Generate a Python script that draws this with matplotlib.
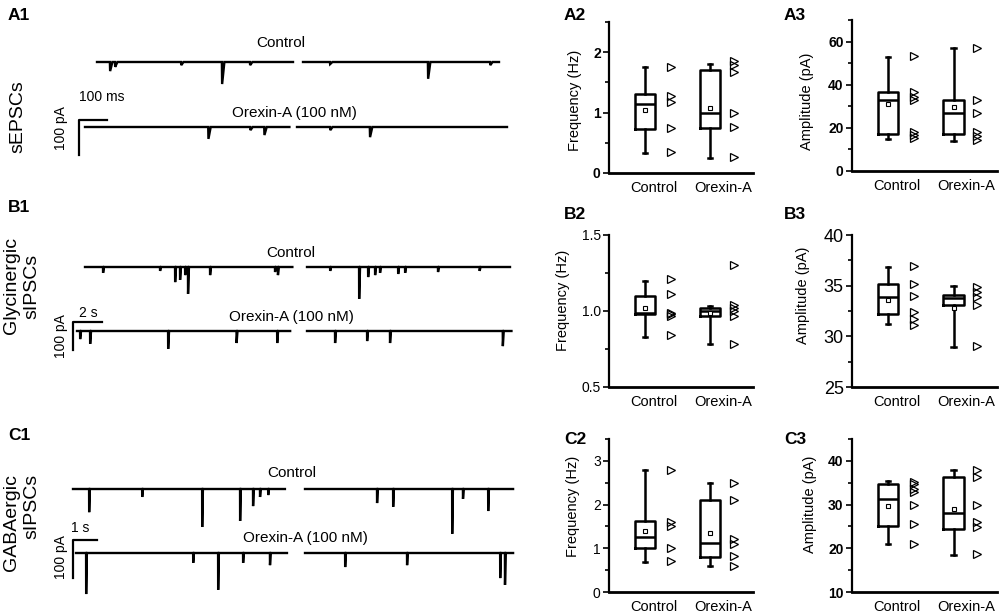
import matplotlib
matplotlib.use("Agg")
import matplotlib.pyplot as plt
import numpy as np

plt.rcParams['font.family'] = ['Liberation Sans', 'DejaVu Sans']

W, H = 1000, 614

# ---------------- box plot data (whislo, q1, med, q3, whishi, mean) ----------------
groups = ['Control', 'Orexin-A']

a2_ctrl_box = [0.33, 0.73, 1.15, 1.30, 1.75, 1.05]
a2_orx_box = [0.25, 0.75, 1.00, 1.70, 1.80, 1.07]
a2_ctrl_pts = [1.75, 1.28, 1.17, 0.75, 0.35]
a2_orx_pts = [1.85, 1.79, 1.68, 1.00, 0.76, 0.27]

a3_ctrl_box = [15.0, 17.0, 33.0, 36.5, 53.0, 31.0]
a3_orx_box = [14.0, 17.0, 27.0, 33.0, 57.0, 29.5]
a3_ctrl_pts = [53.5, 36.5, 34.5, 33.0, 18.0, 16.5, 15.5]
a3_orx_pts = [57.0, 33.0, 27.0, 18.0, 16.0, 14.5]

b2_ctrl_box = [0.83, 0.98, 0.99, 1.10, 1.20, 1.02]
b2_orx_box = [0.78, 0.97, 1.00, 1.02, 1.03, 0.99]
b2_ctrl_pts = [1.21, 1.11, 0.99, 0.98, 0.97, 0.84]
b2_orx_pts = [1.30, 1.04, 1.02, 1.00, 0.97, 0.78]

b3_ctrl_box = [31.2, 32.2, 33.9, 35.2, 36.8, 33.6]
b3_orx_box = [28.9, 33.1, 33.8, 34.1, 35.0, 32.8]
b3_ctrl_pts = [36.9, 35.2, 34.0, 32.4, 31.7, 31.1]
b3_orx_pts = [34.9, 34.4, 33.9, 33.1, 29.0]

c2_ctrl_box = [0.68, 1.00, 1.25, 1.62, 2.80, 1.40]
c2_orx_box = [0.60, 0.80, 1.12, 2.10, 2.50, 1.35]
c2_ctrl_pts = [2.80, 1.60, 1.50, 1.00, 0.72]
c2_orx_pts = [2.50, 2.10, 1.22, 1.10, 0.82, 0.60]

c3_ctrl_box = [21.0, 25.2, 31.3, 34.8, 35.3, 29.6]
c3_orx_box = [18.4, 24.5, 28.0, 36.2, 38.0, 29.0]
c3_ctrl_pts = [35.2, 34.6, 33.6, 32.8, 30.0, 25.5, 21.0]
c3_orx_pts = [37.8, 36.4, 30.0, 26.0, 24.8, 18.6]

# ---------------- trace events (time from segment start in s, amplitude in pA) ----------------
a1_ctrl_t = [[0.046, 0.064, 0.30, 0.446, 0.546], [0.096, 0.446, 0.668]]
a1_ctrl_a = [[26, 14, 9, 63, 9], [6, 48, 9]]
a1_orx_t = [[0.44, 0.59, 0.64], [0.118, 0.26]]
a1_orx_a = [[34, 9, 23], [9, 29]]

b1_ctrl_t = [[1.24, 5.17, 6.21, 6.55, 6.90, 7.10, 8.62, 13.1, 13.3],
             [1.59, 3.59, 4.21, 4.69, 5.03, 6.28, 6.76, 9.03, 11.9]]
b1_ctrl_a = [[21, 14, 54, 46, 29, 96, 29, 18, 29],
             [14, 114, 36, 29, 21, 25, 21, 18, 14]]
b1_orx_t = [[0.21, 0.90, 6.28, 11.0, 13.8], [1.93, 4.14, 5.72, 13.5]]
b1_orx_a = [[29, 46, 64, 43, 43], [43, 36, 43, 54]]

c1_ctrl_t = [[0.67, 2.88, 5.38, 6.96, 7.50, 7.79, 8.13], [3.0, 3.67, 6.13, 6.58, 7.63]]
c1_ctrl_a = [[61, 21, 100, 84, 45, 21, 16], [37, 47, 118, 26, 58]]
c1_orx_t = [[0.42, 4.88, 5.92, 6.96, 8.08], [1.67, 4.25, 8.13, 8.33]]
c1_orx_a = [[108, 26, 97, 26, 32], [37, 32, 66, 84]]


def fx(px):
    return px / W


def fy(py):
    return 1 - py / H


fig = plt.figure(figsize=(10, 6.14), dpi=100)


def trace_panel(box, px_s, px_pa, traces, bar, bar_t, decay_px):
    x0, y0, x1, y1 = box
    ax = fig.add_axes([fx(x0), fy(y1), fx(x1 - x0), (y1 - y0) / H])
    ax.set_xlim(0, (x1 - x0) / px_s)
    ax.set_ylim(-(y1 - y0) / px_pa, 0)
    ax.axis('off')
    dec = decay_px / px_s
    for base_py, segs, ev_t, ev_a in traces:
        yb = -(base_py - y0) / px_pa
        for (sx, dur), tt, aa in zip(segs, ev_t, ev_a):
            t0 = (sx - x0) / px_s
            xs, ys = [t0], [yb]
            for t, a in sorted(zip(tt, aa)):
                xs += [t0 + t, t0 + t + dec * 0.1, t0 + t + dec]
                ys += [yb, yb - a, yb]
            xs.append(t0 + dur)
            ys.append(yb)
            ax.plot(xs, ys, color='k', lw=1.7, solid_joinstyle='miter')
    # scale bar
    bx = (bar[0] - x0) / px_s
    by = -(bar[1] - y0) / px_pa
    ax.plot([bx + bar_t, bx, bx], [by, by, by - 100], color='k', lw=1.6)
    return ax


trace_panel((60, 30, 530, 170), 280, 0.35,
            [(62, [(97, 0.70), (303, 0.70)], a1_ctrl_t, a1_ctrl_a),
             (127, [(85, 0.73), (297, 0.75)], a1_orx_t, a1_orx_a)],
            (79, 120), 0.1, 2.5)
trace_panel((60, 230, 530, 370), 14.5, 0.28,
            [(267, [(85, 14.3), (307, 14.0)], b1_ctrl_t, b1_ctrl_a),
             (331, [(77, 14.7), (307, 14.1)], b1_orx_t, b1_orx_a)],
            (73, 322), 2.0, 1.0)
trace_panel((60, 450, 530, 614), 24, 0.38,
            [(489, [(73, 8.83), (305, 8.67)], c1_ctrl_t, c1_ctrl_a),
             (553, [(76, 8.79), (305, 8.67)], c1_orx_t, c1_orx_a)],
            (73, 540), 1.0, 0.8)

# trace texts
txt = dict(ha='center', va='center', fontsize=11)
fig.text(fx(281), fy(43), 'Control', **txt)
fig.text(fx(294), fy(113), 'Orexin-A (100 nM)', **txt)
fig.text(fx(291), fy(253), 'Control', **txt)
fig.text(fx(291), fy(317), 'Orexin-A (100 nM)', **txt)
fig.text(fx(292), fy(473), 'Control', **txt)
fig.text(fx(305), fy(538), 'Orexin-A (100 nM)', **txt)

fig.text(fx(79), fy(97), '100 ms', ha='left', va='center', fontsize=10)
fig.text(fx(88), fy(313), '2 s', ha='center', va='center', fontsize=10)
fig.text(fx(80), fy(528), '1 s', ha='center', va='center', fontsize=10)
for yy in (128, 336, 557):
    fig.text(fx(61), fy(yy), '100 pA', rotation=90, ha='center', va='center', fontsize=10)

side = dict(rotation=90, ha='center', va='center', fontsize=14)
fig.text(fx(18), fy(117), 'sEPSCs', **side)
fig.text(fx(12), fy(285), 'Glycinergic', **side)
fig.text(fx(32), fy(286), 'sIPSCs', **side)
fig.text(fx(12), fy(523), 'GABAergic', **side)
fig.text(fx(32), fy(506), 'sIPSCs', **side)

lab = dict(ha='left', va='center', fontsize=12.5, fontweight='bold')
for s, (px_, py_) in {'A1': (8, 16), 'B1': (8, 208), 'C1': (8, 435),
                      'A2': (564, 16), 'A3': (784, 16),
                      'B2': (564, 215), 'B3': (784, 215),
                      'C2': (564, 440), 'C3': (784, 440)}.items():
    fig.text(fx(px_), fy(py_), s, **lab)


# ---------------- box plot panels ----------------
def box_panel(box, ylim, major, minor, ctrl_box, orx_box, ctrl_pts, orx_pts,
              ylabel, lab_xy, tick_fs, tick_fw, fmt):
    x0, y0, x1, y1 = box
    ax = fig.add_axes([fx(x0), fy(y1), fx(x1 - x0), (y1 - y0) / H])
    stats = []
    for b in (ctrl_box, orx_box):
        stats.append(dict(whislo=b[0], q1=b[1], med=b[2], q3=b[3], whishi=b[4], mean=b[5]))
    ax.bxp(stats, positions=[0.25, 0.70], widths=0.14, showmeans=True,
           showfliers=False, capwidths=0.03,
           boxprops=dict(lw=1.8, color='k'),
           whiskerprops=dict(lw=1.8, color='k'),
           capprops=dict(lw=1.8, color='k'),
           medianprops=dict(lw=1.8, color='k'),
           meanprops=dict(marker='s', mfc='white', mec='k', ms=3.5, mew=0.8))
    ax.plot([0.43] * len(ctrl_pts), ctrl_pts, ls='none', marker='>', mfc='none',
            mec='k', ms=5.5, mew=0.9)
    ax.plot([0.865] * len(orx_pts), orx_pts, ls='none', marker='>', mfc='none',
            mec='k', ms=5.5, mew=0.9)
    ax.set_xlim(0, 1)
    ax.set_ylim(*ylim)
    ax.set_yticks(major)
    ax.set_yticklabels([fmt.format(v) for v in major], fontsize=tick_fs, fontweight=tick_fw)
    ax.set_yticks(minor, minor=True)
    ax.set_xticks([0.31, 0.79])
    ax.set_xticklabels(groups, fontsize=10.5)
    ax.tick_params(axis='x', length=0, pad=6)
    ax.tick_params(axis='y', which='major', length=4, width=1.2, pad=2)
    ax.tick_params(axis='y', which='minor', length=3, width=1.2)
    for s in ('top', 'right'):
        ax.spines[s].set_visible(False)
    ax.spines['left'].set_linewidth(1.6)
    ax.spines['bottom'].set_linewidth(2.0)
    ax.set_ylabel(ylabel, fontsize=10.5)
    ax.yaxis.set_label_coords(*lab_xy)
    ax.patch.set_visible(False)
    return ax


box_panel((609, 22, 753, 173), (0, 2.5), [0, 1, 2], [0.5, 1.5, 2.5],
          a2_ctrl_box, a2_orx_box, a2_ctrl_pts, a2_orx_pts,
          'Frequency (Hz)', (-0.19, 0.48), 10, 'bold', '{:g}')
box_panel((852, 20, 997, 171), (0, 70), [0, 20, 40, 60], [10, 30, 50, 70],
          a3_ctrl_box, a3_orx_box, a3_ctrl_pts, a3_orx_pts,
          'Amplitude (pA)', (-0.26, 0.46), 10, 'bold', '{:g}')
box_panel((609, 235, 753, 387), (0.5, 1.5), [0.5, 1.0, 1.5], [0.75, 1.25],
          b2_ctrl_box, b2_orx_box, b2_ctrl_pts, b2_orx_pts,
          'Frequency (Hz)', (-0.27, 0.57), 10, 'normal', '{:.1f}')
box_panel((852, 235, 997, 387), (25, 40), [25, 30, 35, 40], [27.5, 32.5, 37.5],
          b3_ctrl_box, b3_orx_box, b3_ctrl_pts, b3_orx_pts,
          'Amplitude (pA)', (-0.29, 0.6), 13, 'normal', '{:g}')
box_panel((609, 439, 753, 592), (0, 3.5), [0, 1, 2, 3], [0.5, 1.5, 2.5, 3.5],
          c2_ctrl_box, c2_orx_box, c2_ctrl_pts, c2_orx_pts,
          'Frequency (Hz)', (-0.2, 0.56), 10, 'normal', '{:g}')
box_panel((852, 439, 997, 592), (10, 45), [10, 20, 30, 40], [15, 25, 35, 45],
          c3_ctrl_box, c3_orx_box, c3_ctrl_pts, c3_orx_pts,
          'Amplitude (pA)', (-0.24, 0.575), 10, 'bold', '{:g}')

fig.savefig('out.png', dpi=100)
